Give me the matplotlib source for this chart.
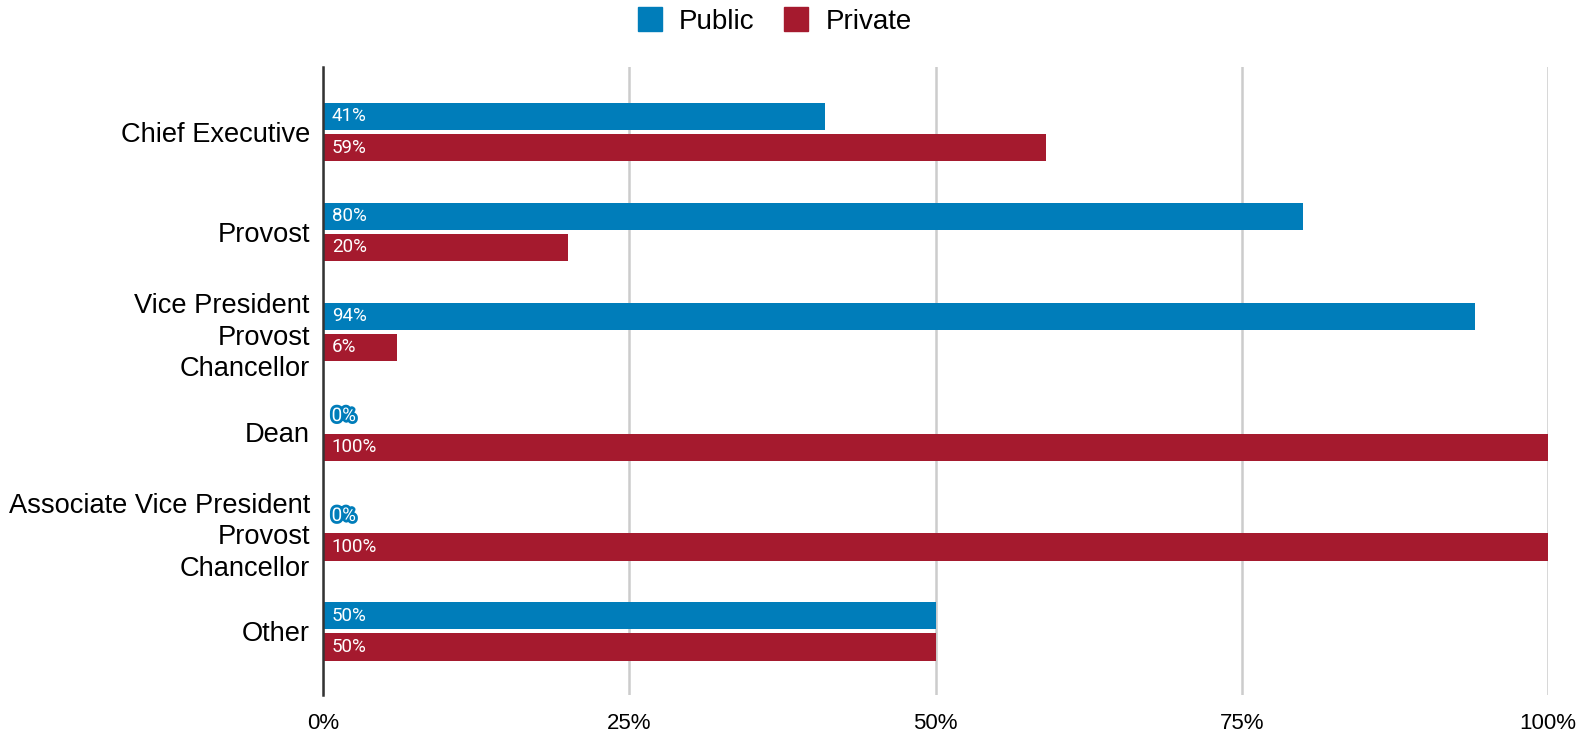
import numpy as np
import matplotlib.pyplot as plt
import matplotlib.patheffects as pe
from matplotlib.lines import Line2D

categories = ['Chief Executive', 'Provost', 'Vice President\nProvost\nChancellor',
              'Dean', 'Associate Vice President\nProvost\nChancellor', 'Other']
public = [41, 80, 94, 0, 0, 50]
private = [59, 20, 6, 100, 100, 50]
xticks = [0, 25, 50, 75, 100]

blue = '#007dba'
red = '#a51a2e'

fig = plt.figure(figsize=(15.79, 7.36), dpi=100)
ax = fig.add_axes([0.2046, 0.0557, 0.7758, 0.8539])

y = np.arange(len(categories))
h = 0.272
off = 0.156
ax.barh(y - off, public, height=h, color=blue, zorder=3)
ax.barh(y + off, private, height=h, color=red, zorder=3)

for yi, v in zip(y - off, public):
    t = ax.text(0.7, yi, f'{v}%', color='white', fontsize=13.5, family='Roboto',
                va='center', ha='left', zorder=4)
    if v == 0:
        t.set_path_effects([pe.withStroke(linewidth=4, foreground=blue)])
for yi, v in zip(y + off, private):
    ax.text(0.7, yi, f'{v}%', color='white', fontsize=13.5, family='Roboto',
            va='center', ha='left', zorder=4)

ax.set_xlim(0, 100)
ax.set_ylim(5.637, -0.655)
ax.set_xticks(xticks)
ax.set_xticklabels([f'{v}%' for v in xticks], fontsize=16, family='Liberation Sans')
ax.set_yticks(y)
ax.set_yticklabels(categories, fontsize=19.6, family='Liberation Sans', linespacing=1.28)
ax.tick_params(length=0)
ax.tick_params(axis='x', pad=13)
ax.tick_params(axis='y', pad=9.5)
ax.grid(axis='x', color='#cccccc', lw=1.8, zorder=0)
for s in ['top', 'right', 'bottom']:
    ax.spines[s].set_visible(False)
ax.spines['left'].set_color('#333333')
ax.spines['left'].set_linewidth(1.8)
ax.spines['left'].set_zorder(5)

handles = [Line2D([], [], marker='s', ls='', markersize=17, color=blue),
           Line2D([], [], marker='s', ls='', markersize=17, color=red)]
fig.legend(handles, ['Public', 'Private'], loc='center', bbox_to_anchor=(0.490, 0.970),
           ncol=2, frameon=False, prop={'family': 'Liberation Sans', 'size': 20},
           handletextpad=0.55, columnspacing=1.0, handlelength=1.0)

fig.savefig('out.png', dpi=100, facecolor='white')
